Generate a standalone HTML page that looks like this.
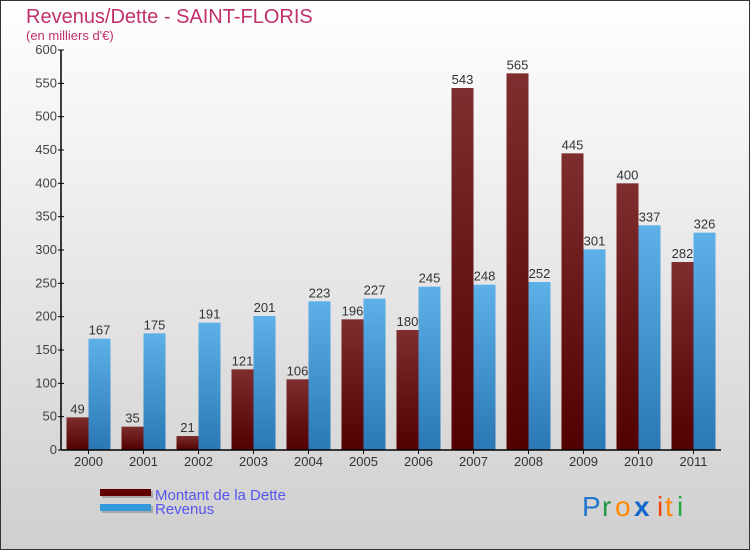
<!DOCTYPE html>
<html><head><meta charset="utf-8"><style>
body{margin:0}
#c{width:750px;height:550px;position:relative;overflow:hidden;font-family:"Liberation Sans","DejaVu Sans",sans-serif}
</style></head><body>
<div id="c">
<svg width="750" height="550" xmlns="http://www.w3.org/2000/svg" id="svg" font-family="'Liberation Sans','DejaVu Sans',sans-serif">
<defs>
<linearGradient id="bg" x1="0" y1="0" x2="0" y2="1"><stop offset="0" stop-color="#ffffff"/><stop offset="1" stop-color="#cfcfcf"/></linearGradient>
<linearGradient id="gr" x1="0" y1="0" x2="0" y2="1"><stop offset="0" stop-color="#7e2e2e"/><stop offset="1" stop-color="#520000"/></linearGradient>
<linearGradient id="gb" x1="0" y1="0" x2="0" y2="1"><stop offset="0" stop-color="#5db0e8"/><stop offset="1" stop-color="#2a78b5"/></linearGradient>
</defs>
<rect x="0.5" y="0.5" width="749" height="549" fill="url(#bg)" stroke="#333"/>
<text x="26" y="23" font-size="20" fill="#c0306a">Revenus/Dette - SAINT-FLORIS</text>
<text x="26" y="40" font-size="13" fill="#c0306a">(en milliers d'€)</text>
<g id="bars"></g>
<g id="axes"></g>
<g>
<rect x="102" y="491" width="51" height="7" fill="#888" opacity="0.6"/>
<rect x="100" y="489" width="51" height="7" fill="#600000"/>
<rect x="102" y="506" width="51" height="7" fill="#888" opacity="0.6"/>
<rect x="100" y="504" width="51" height="7" fill="#3399dd"/>
<text x="155" y="500" font-size="15" fill="#5555ee">Montant de la Dette</text>
<text x="155" y="514" font-size="15" fill="#5555ee">Revenus</text>
</g>
<g font-size="28">
<text x="582" y="516" fill="#2277cc">P</text><text x="602" y="516" fill="#229944">r</text><text x="615" y="516" fill="#ff8800">o</text><text x="634" y="516" fill="#1166cc" font-weight="bold">x</text><text x="657" y="516" fill="#ee4411">i</text><text x="665" y="516" fill="#ff8800">t</text><text x="677" y="516" fill="#22aa44">i</text>
</g>
</svg>
</div>
<script>
const categories=["2000","2001","2002","2003","2004","2005","2006","2007","2008","2009","2010","2011"];
const dette=[49,35,21,121,106,196,180,543,565,445,400,282];
const revenus=[167,175,191,201,223,227,245,248,252,301,337,326];
const yTicks=[0,50,100,150,200,250,300,350,400,450,500,550,600];
const NS="http://www.w3.org/2000/svg";
const L=61,R=721,T=50,B=450,band=(R-L)/categories.length;
const y=v=>B-(v/600)*(B-T);
const bars=document.getElementById('bars'),axes=document.getElementById('axes');
function mk(t,a,p){const e=document.createElementNS(NS,t);for(const k in a)e.setAttribute(k,a[k]);p.appendChild(e);return e;}
categories.forEach((c,i)=>{
  const cx=L+band*(i+0.5);
  const r=mk('rect',{x:cx-22,y:y(dette[i]),width:22,height:B-y(dette[i]),fill:'url(#gr)'},bars);
  
  
  const b=mk('rect',{x:cx,y:y(revenus[i]),width:22,height:B-y(revenus[i]),fill:'url(#gb)'},bars);
  
  
  const t1=mk('text',{x:cx-11,y:y(dette[i])-4,'font-size':13,fill:'#333','text-anchor':'middle'},bars);
  t1.textContent=dette[i];
  
  
  const t2=mk('text',{x:cx+11,y:y(revenus[i])-4,'font-size':13,fill:'#333','text-anchor':'middle'},bars);
  t2.textContent=revenus[i];
  
  
  mk('line',{x1:cx,x2:cx,y1:B,y2:B+4,stroke:'#000'},axes);
  const xl=mk('text',{x:cx,y:B+16,'font-size':13,fill:'#333','text-anchor':'middle'},axes);
  xl.textContent=c;
  
  
});
yTicks.forEach(v=>{
  mk('line',{x1:L-3,x2:L+3,y1:y(v),y2:y(v),stroke:'#000'},axes);
  const t=mk('text',{x:L-4,y:y(v)+4,'font-size':13,fill:'#444','text-anchor':'end'},axes);
  t.textContent=v;
  
  
});
const ya=mk('line',{x1:L,x2:L,y1:T,y2:B,stroke:'#000','stroke-width':1.5},axes);


const xa=mk('line',{x1:L,x2:R,y1:B,y2:B,stroke:'#000','stroke-width':1.5},axes);


</script>
</body></html>
